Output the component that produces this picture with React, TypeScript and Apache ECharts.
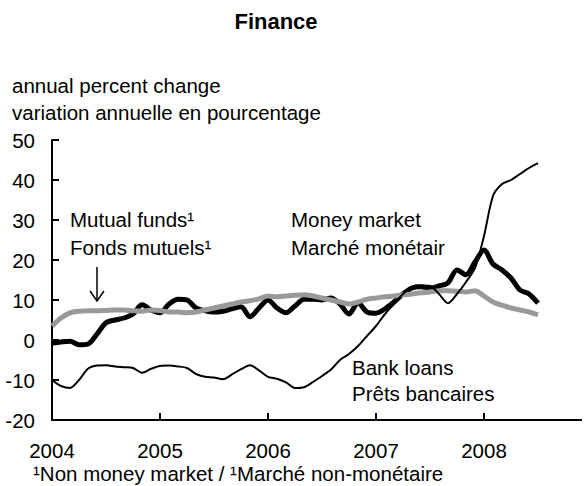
import React, { useEffect, useRef } from "react";
import * as echarts from "echarts";

const startYear = 2004;
const yearTicks = [2004, 2005, 2006, 2007, 2008];

// Monthly values, Jan 2004 .. Jul 2008 (annual percent change)
const bankLoans = [
  -10, -11.5, -12, -10, -7.2, -6.4, -6.3, -6.6, -6.8, -7.0, -8.2, -7.2,
  -6.5, -6.4, -6.6, -7.0, -8.5, -9.2, -9.4, -9.8, -8.6, -7.3, -6.3, -7.6,
  -9.2, -9.7, -10.6, -12, -11.8, -10.5, -9.0, -7.4, -5.0, -3.5, -1.5, 1.0,
  3.5, 6.5, 9.0, 11.5, 13.3, 13.6, 13.5, 11.5, 9.2, 11.5, 14.5, 18,
  26, 36, 39, 40, 41.5, 43, 44.2,
];
const moneyMarket = [
  -0.8, -0.5, -0.3, -1.2, -1.0, 1.5, 4.3, 5.0, 5.5, 6.5, 8.8, 7.5,
  6.8, 9.0, 10.2, 10.0, 8.0, 7.3, 7.0, 7.2, 7.8, 8.3, 5.8, 8.0,
  10.0, 8.0, 6.8, 8.5, 10.2, 10.2, 10.0, 10.5, 9.0, 6.5, 9.3, 7.0,
  6.7, 7.8, 9.5, 11.5, 13.0, 13.3, 13.0, 13.5, 14.3, 17.5, 16.3, 19.5,
  22.5, 19, 17.5, 15.5, 12.5, 11.5, 9.2,
];
const mutualFunds = [
  3.5, 5.5, 6.8, 7.2, 7.3, 7.3, 7.4, 7.5, 7.5, 7.3, 7.2, 7.5,
  7.4, 7.0, 7.0, 6.8, 7.0, 7.5, 8.0, 8.5, 9.0, 9.5, 9.8, 10.3,
  11.0, 10.8, 11.0, 11.2, 11.3, 11.0, 10.5, 10.0, 9.5, 9.0, 9.5, 10.2,
  10.5, 10.8, 11.0, 11.3, 11.5, 11.8, 12.0, 12.3, 12.3, 12.2, 12.0, 12.3,
  11.0, 9.5, 8.7, 8.0, 7.5, 7.0, 6.3,
];

const FONT = "'Liberation Sans', Arial, sans-serif";
const FS = 20.5;

const toPairs = (vals: number[]) => vals.map((v, i) => [startYear + i / 12, v]);

function txt(text: string, x: number, y: number, size = FS, weight = "normal", align = "left") {
  return {
    type: "text",
    x,
    y,
    silent: true,
    style: {
      text,
      fill: "#000",
      fontSize: size,
      fontFamily: FONT,
      fontWeight: weight,
      align,
      verticalAlign: "middle",
      textAlign: align,
      textVerticalAlign: "middle",
    },
  };
}

export default function App() {
  const ref = useRef<HTMLDivElement>(null);
  useEffect(() => {
    if (!ref.current) return;
    const chart = echarts.init(ref.current, null, { renderer: "svg" });
    chart.setOption({
      animation: false,
      backgroundColor: "#fff",
      grid: { left: 52, top: 140, width: 529.2, height: 280, containLabel: false },
      xAxis: {
        type: "value",
        min: 2004,
        max: 2008.9,
        interval: 1,
        splitLine: { show: false },
        axisLine: { show: true, onZero: false, lineStyle: { color: "#000", width: 2 } },
        axisTick: { show: true, inside: true, length: 7, lineStyle: { color: "#000", width: 2 }, customValues: yearTicks },
        axisLabel: {
          customValues: yearTicks,
          color: "#000",
          fontSize: FS,
          fontFamily: FONT,
          margin: 20,
          formatter: (v: number) => (Math.abs(v - Math.round(v)) < 1e-6 ? String(Math.round(v)) : ""),
        },
      },
      yAxis: {
        type: "value",
        min: -20,
        max: 50,
        interval: 10,
        splitLine: { show: false },
        axisLine: { show: true, lineStyle: { color: "#000", width: 2 } },
        axisTick: { show: true, inside: true, length: 7, lineStyle: { color: "#000", width: 2 } },
        axisLabel: { color: "#000", fontSize: FS, fontFamily: FONT, margin: 17 },
      },
      series: [
        {
          name: "Money market",
          type: "line",
          data: toPairs(moneyMarket),
          showSymbol: false,
          symbol: "none",
          smooth: 0.3,
          lineStyle: { color: "#000", width: 5 },
          z: 2,
        },
        {
          name: "Mutual funds",
          type: "line",
          data: toPairs(mutualFunds),
          showSymbol: false,
          symbol: "none",
          smooth: 0.3,
          lineStyle: { color: "#999999", width: 5 },
          z: 3,
        },
        {
          name: "Bank loans",
          type: "line",
          data: toPairs(bankLoans),
          showSymbol: false,
          symbol: "none",
          smooth: 0.3,
          lineStyle: { color: "#000", width: 2 },
          z: 4,
        },
      ],
      graphic: [
        txt("Finance", 276, 21, 22, "bold", "center"),
        txt("annual percent change", 12, 85, FS),
        txt("variation annuelle en pourcentage", 12, 112, FS),
        txt("Mutual funds¹", 70, 219, FS),
        txt("Fonds mutuels¹", 70, 247, FS),
        txt("Money market", 291, 219, FS),
        txt("Marché monétair", 291, 247, FS),
        txt("Bank loans", 352, 367, FS),
        txt("Prêts bancaires", 352, 393, FS),
        txt("¹Non money market / ¹Marché non-monétaire", 33, 473, FS),
        {
          type: "line",
          silent: true,
          shape: { x1: 97, y1: 267, x2: 97, y2: 301 },
          style: { stroke: "#000", lineWidth: 1.5 },
        },
        {
          type: "polyline",
          silent: true,
          shape: { points: [[90, 291], [97, 301], [104, 291]] },
          style: { stroke: "#000", lineWidth: 1.5, fill: null },
        },
      ],
    });
    return () => chart.dispose();
  }, []);
  return <div ref={ref} style={{ position: "fixed", left: 0, top: 0, width: 584, height: 486 }} />;
}
